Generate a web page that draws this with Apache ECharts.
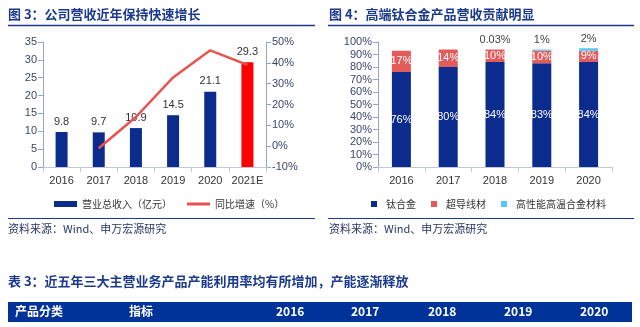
<!DOCTYPE html>
<html><head><meta charset="utf-8">
<script src="https://cdn.jsdelivr.net/npm/echarts@6/dist/echarts.min.js"></script>
<style>html,body{margin:0;padding:0;background:#fff}#c{width:640px;height:327px}</style>
</head><body><div id="c"></div>
<script>
// ---- data ----
var years1 = ['2016','2017','2018','2019','2020','2021E'];
var revenue = [9.8, 9.7, 10.9, 14.5, 21.1, 29.3];
var growth = [null, -1, 14, 33, 46, 39];
var years2 = ['2016','2017','2018','2019','2020'];
var titanium = [76, 80, 84, 83, 84];
var supercond = [17, 14, 10, 10, 9];
var superalloy = [0, 0, 0.03, 1, 2];
var superalloyLabels = ['', '', '0.03%', '1%', '2%'];
var tableHeader = ['产品分类', '指标', '2016', '2017', '2018', '2019', '2020'];

var NAVY = '#0B2C8C', TITLE = '#1B3A8E', RED_BAR = '#FF0000', LINE = '#E8524F';
var PINK = '#E35B5B', CYAN = '#55C8F5', AXIS = '#8FA6D3', LBL = '#3A4570';
var FONT = '"Noto Sans CJK SC","Noto Sans",sans-serif';
var NFONT = '"Liberation Sans","Noto Sans CJK SC",sans-serif';

var chart = echarts.init(document.getElementById('c'), null, {renderer:'canvas'});

var headerX = [15, 129, 290, 365, 442, 518, 594];
var headerGraphics = tableHeader.map(function(t, i){
  return {type:'text', left: i < 2 ? headerX[i] : headerX[i] - 14, top: 305,
    style:{text:t, fill:'#fff', font:'bold 12px ' + FONT}};
});

var graphics = [
  {type:'text', left:8, top:8, style:{text:'图 3：公司营收近年保持快速增长', fill:TITLE, font:'bold 13px ' + FONT}},
  {type:'text', left:329, top:8, style:{text:'图 4：高端钛合金产品营收贡献明显', fill:TITLE, font:'bold 13px ' + FONT}},
  {type:'line', shape:{x1:8,y1:25.5,x2:315,y2:25.5}, style:{stroke:TITLE, lineWidth:1.5}},
  {type:'line', shape:{x1:328,y1:25.5,x2:634,y2:25.5}, style:{stroke:TITLE, lineWidth:1.5}},
  {type:'line', shape:{x1:8,y1:218.5,x2:315,y2:218.5}, style:{stroke:TITLE, lineWidth:1.2}},
  {type:'line', shape:{x1:328,y1:218.5,x2:634,y2:218.5}, style:{stroke:TITLE, lineWidth:1.2}},
  {type:'text', left:8, top:223, style:{text:'资料来源：Wind、申万宏源研究', fill:'#2A3560', font:'11px ' + FONT}},
  {type:'text', left:329, top:223, style:{text:'资料来源：Wind、申万宏源研究', fill:'#2A3560', font:'11px ' + FONT}},
  {type:'text', left:8, top:275, style:{text:'表 3：近五年三大主营业务产品产能利用率均有所增加，产能逐渐释放', fill:TITLE, font:'bold 13px ' + FONT}},
  {type:'rect', shape:{x:8,y:302,width:624,height:20}, style:{fill:'#003399'}}
].concat(headerGraphics);

chart.setOption({
  animation:false,
  textStyle:{fontFamily:NFONT},
  graphic: graphics,
  grid:[
    {left:43, top:42, width:223, height:125},
    {left:378, top:42, width:234, height:125}
  ],
  legend:[
    {left:49, top:194, itemWidth:23, itemHeight:6, icon:'rect',
     textStyle:{fontSize:10, color:'#333', fontFamily:FONT},
     data:['营业总收入（亿元）']},
    {left:182, top:194, itemWidth:23, itemHeight:3, icon:'rect',
     textStyle:{fontSize:10, color:'#333', fontFamily:FONT},
     data:['同比增速（%）']},
    {left:366, top:194, width:280, itemWidth:6, itemHeight:6, itemGap:15, icon:'rect',
     textStyle:{fontSize:10, color:'#333', fontFamily:FONT, padding:[0,0,0,4]},
     data:['钛合金','超导线材','高性能高温合金材料']}
  ],
  xAxis:[
    {type:'category', gridIndex:0, data:years1,
     axisLine:{lineStyle:{color:'#BFC7D8'}}, axisTick:{show:true, lineStyle:{color:'#BFC7D8'}},
     axisLabel:{fontSize:11, color:'#333', margin:8, interval:0}},
    {type:'category', gridIndex:1, data:years2,
     axisLine:{lineStyle:{color:'#BFC7D8'}}, axisTick:{show:true, lineStyle:{color:'#BFC7D8'}},
     axisLabel:{fontSize:11, color:'#333', margin:8, interval:0}}
  ],
  yAxis:[
    {type:'value', gridIndex:0, min:0, max:35, interval:5,
     axisLine:{show:true, lineStyle:{color:AXIS}}, axisTick:{show:true, lineStyle:{color:AXIS}},
     splitLine:{show:false}, axisLabel:{fontSize:11, color:LBL, margin:6}},
    {type:'value', gridIndex:0, position:'right', min:-10, max:50, interval:10,
     axisLine:{show:true, lineStyle:{color:AXIS}}, axisTick:{show:true, lineStyle:{color:AXIS}},
     splitLine:{show:false}, axisLabel:{fontSize:11, color:LBL, margin:6, formatter:'{value}%'}},
    {type:'value', gridIndex:1, min:0, max:100, interval:10,
     axisLine:{show:true, lineStyle:{color:AXIS}}, axisTick:{show:true, lineStyle:{color:AXIS}},
     splitLine:{show:false}, axisLabel:{fontSize:11, color:LBL, margin:6, formatter:'{value}%'}}
  ],
  series:[
    {name:'营业总收入（亿元）', type:'bar', xAxisIndex:0, yAxisIndex:0, barWidth:12,
     itemStyle:{color:NAVY},
     data: revenue.map(function(v,i){ return i === revenue.length-1 ? {value:v, itemStyle:{color:RED_BAR}} : v; }),
     label:{show:true, position:'top', fontSize:11, color:'#333', distance:5}},
    {name:'同比增速（%）', type:'line', xAxisIndex:0, yAxisIndex:1, data:growth,
     symbol:'none', lineStyle:{color:LINE, width:2.5}, itemStyle:{color:LINE}},
    {name:'钛合金', type:'bar', xAxisIndex:1, yAxisIndex:2, stack:'s', barWidth:19,
     itemStyle:{color:NAVY}, data:titanium,
     label:{show:true, position:'inside', color:'#fff', fontSize:11, formatter:'{c}%'}},
    {name:'超导线材', type:'bar', xAxisIndex:1, yAxisIndex:2, stack:'s', barWidth:19,
     itemStyle:{color:PINK}, data:supercond,
     label:{show:true, position:'inside', color:'#fff', fontSize:11, formatter:'{c}%'}},
    {name:'高性能高温合金材料', type:'bar', xAxisIndex:1, yAxisIndex:2, stack:'s', barWidth:19,
     itemStyle:{color:CYAN}, data:superalloy,
     label:{show:true, position:'top', color:'#444', fontSize:11, distance:4,
       formatter:function(p){ return superalloyLabels[p.dataIndex]; }}}
  ]
});
</script></body></html>
